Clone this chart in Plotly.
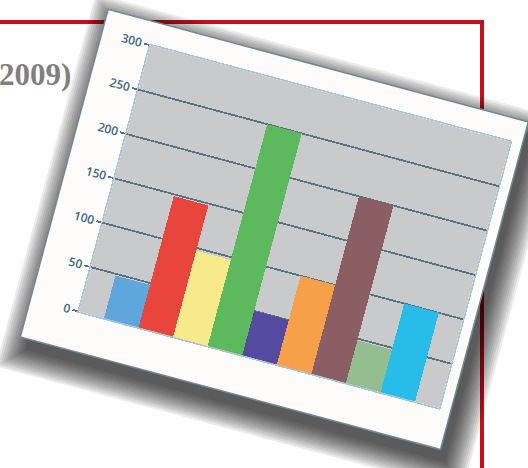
import plotly.graph_objects as go

# ---------------- data ----------------
categories = ["A", "B", "C", "D", "E", "F", "G", "H", "I"]
values = [48, 148, 97, 250, 50, 100, 200, 48, 100]
bar_colors = ["#5ea6dc", "#e8453c", "#f7ea8a", "#5db95e", "#5549a0",
              "#f6a14a", "#8b5e63", "#93be8f", "#27bde8"]
y_ticks = [0, 50, 100, 150, 200, 250, 300]
title_fragment = "2009)"

W, H = 528, 468


def px(x):
    return x / W


def py(y):
    return 1 - y / H


# chart card (unrotated page pixels); the card is rotated 15 deg about its centre
CARD = (57, 52.75, 492, 404.75)
PLOT = (107, 77.5, 480, 363.5)
CX, CY = (CARD[0] + CARD[2]) / 2, (CARD[1] + CARD[3]) / 2

fig = go.Figure()
fig.add_trace(go.Bar(
    x=categories, y=values,
    marker=dict(color=bar_colors, line=dict(width=0)),
    showlegend=False, hoverinfo="skip",
))

shapes = []
# slide frame (not rotated) - indices 0, 1
red = "#c0121c"
shapes.append(dict(type="line", xref="paper", yref="paper", layer="below",
                   x0=px(-10), x1=px(484), y0=py(13.5), y1=py(13.5),
                   line=dict(color=red, width=4)))
shapes.append(dict(type="line", xref="paper", yref="paper", layer="below",
                   x0=px(482), x1=px(482), y0=py(12), y1=py(480),
                   line=dict(color=red, width=4)))
# soft shadow of the card
ox, oy = 8, 12
for k in range(12):
    e = 2.2 * k
    shapes.append(dict(type="rect", xref="paper", yref="paper", layer="below",
                       x0=px(CARD[0] + ox - e), x1=px(CARD[2] + ox + e),
                       y0=py(CARD[1] + oy - e), y1=py(CARD[3] + oy + e),
                       fillcolor="black", opacity=0.08, line=dict(width=0)))
# card
shapes.append(dict(type="rect", xref="paper", yref="paper", layer="below",
                   x0=px(CARD[0]), x1=px(CARD[2]), y0=py(CARD[1]), y1=py(CARD[3]),
                   fillcolor="#fdfcfa", line=dict(color="#6f8a96", width=1.5)))
# plot area background
shapes.append(dict(type="rect", xref="paper", yref="paper", layer="below",
                   x0=px(PLOT[0]), x1=px(PLOT[2]), y0=py(PLOT[1]), y1=py(PLOT[3]),
                   fillcolor="#c9cacc", line=dict(width=0)))

fig.update_layout(
    width=W, height=H,
    margin=dict(l=0, r=0, t=0, b=0),
    paper_bgcolor="white",
    plot_bgcolor="rgba(0,0,0,0)",
    bargap=0,
    shapes=shapes,
    xaxis=dict(domain=[px(PLOT[0]), px(PLOT[2])], range=[-1.227, 9.199],
               showticklabels=False, ticks="", showgrid=False, zeroline=False,
               showline=True, mirror=True, linecolor="#a9c6d6", linewidth=1.5),
    yaxis=dict(domain=[py(PLOT[3]), py(PLOT[1])], range=[0, 300],
               tickvals=y_ticks, ticktext=[str(v) for v in y_ticks],
               showgrid=True, gridcolor="#587382", gridwidth=1.8, zeroline=False,
               ticks="outside", ticklen=5, tickcolor="#587382", tickwidth=1.8,
               tickfont=dict(family="Open Sans", size=12, color="#3d6680", weight=600),
               showline=True, mirror=True, linecolor="#a9c6d6", linewidth=1.5),
    annotations=[dict(text=f"<b>{title_fragment}</b>", xref="paper", yref="paper",
                      x=px(73), y=py(68), xanchor="right", yanchor="middle",
                      showarrow=False,
                      font=dict(family="Liberation Serif", size=31, color="#7f7f7f"))],
)

post = """
var gd = document.getElementById('{plot_id}');
var T = 'rotate(15 %.2f %.2f)';
var svg = gd.querySelector('svg.main-svg');
['.bglayer', '.cartesianlayer'].forEach(function(s){
  var el = svg.querySelector(s); if (el) el.setAttribute('transform', T);
});
var sl = svg.querySelector('.layer-below .shapelayer');
if (sl) {
  Array.prototype.forEach.call(sl.children, function(el, i){
    var idx = el.getAttribute('data-index');
    if (idx === null) { var d = el.querySelector('[data-index]'); idx = d ? d.getAttribute('data-index') : i; }
    if (+idx >= 2) el.setAttribute('transform', T);
  });
}
""" % (CX, CY)

fig.write_html("out.html", post_script=post, config={"staticPlot": True})
